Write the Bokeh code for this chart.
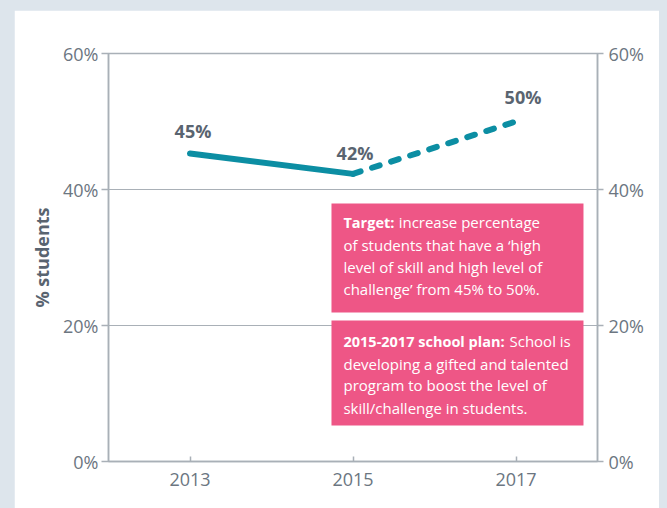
from bokeh.plotting import figure
from bokeh.models import Range1d, LinearAxis, FixedTicker, PrintfTickFormatter, ColumnDataSource
from bokeh.core.properties import value
from bokeh.embed import file_html
from bokeh.resources import INLINE

# ---- data ----
years_actual = [2013, 2015]
pct_actual = [45.3, 42.3]
years_target = [2015, 2017]
pct_target = [42.3, 50.0]
label_years = [2013, 2015, 2017]
label_pcts = [45.3, 42.3, 50.0]
label_texts = ["45%", "42%", "50%"]
x_ticks = [2013, 2015, 2017]
y_ticks = [0, 20, 40, 60]

GRAY = "#a9b0b7"
TICKC = "#6c7681"
DARK = "#596470"
TEAL = "#0c8ea3"
PINK = "#ee5686"

p = figure(width=645, height=498, output_backend="svg", toolbar_location=None,
           x_range=Range1d(2012, 2018), y_range=Range1d(0, 60),
           min_border_left=94, min_border_right=62, min_border_top=43, min_border_bottom=47,
           margin=(10, 0, 0, 14))
p.background_fill_color = "white"
p.border_fill_color = "white"
p.outline_line_color = GRAY
p.outline_line_width = 1.5

p.xgrid.visible = False
p.ygrid.ticker = FixedTicker(ticks=y_ticks)
p.ygrid.grid_line_color = GRAY
p.ygrid.grid_line_width = 1.2

def style_y(ax, tick_out, standoff):
    ax.ticker = FixedTicker(ticks=y_ticks)
    ax.formatter = PrintfTickFormatter(format="%d%%")
    ax.axis_line_color = GRAY
    ax.axis_line_width = 1.5
    ax.major_tick_line_color = GRAY
    ax.major_tick_line_width = 1.5
    ax.major_tick_in = 0
    ax.major_tick_out = tick_out
    ax.minor_tick_line_color = None
    ax.major_label_text_font = "Open Sans"
    ax.major_label_text_font_size = "18px"
    ax.major_label_text_color = TICKC
    ax.major_label_standoff = standoff

ya = p.yaxis[0]
style_y(ya, 7, 3)
ya.axis_label = "% students"
ya.axis_label_text_font = "Open Sans"
ya.axis_label_text_font_style = "bold"
ya.axis_label_text_font_size = "18px"
ya.axis_label_text_color = DARK
ya.axis_label_standoff = 6

ra = LinearAxis()
style_y(ra, 6, 5)
p.add_layout(ra, "right")

xa = p.xaxis[0]
xa.ticker = FixedTicker(ticks=x_ticks)
xa.formatter = PrintfTickFormatter(format="%d")
xa.axis_line_color = GRAY
xa.axis_line_width = 1.5
xa.major_tick_line_color = GRAY
xa.major_tick_line_width = 1.5
xa.major_tick_in = 5
xa.major_tick_out = 0
xa.minor_tick_line_color = None
xa.major_label_text_font = "Open Sans"
xa.major_label_text_font_size = "18px"
xa.major_label_text_color = TICKC
xa.major_label_standoff = 11

# lines
p.line(years_actual, pct_actual, line_color=TEAL, line_width=6, line_cap="round")
p.line(years_target, pct_target, line_color=TEAL, line_width=6, line_dash="8 12", line_cap="round")

src = ColumnDataSource(dict(x=label_years, y=label_pcts, t=label_texts,
                            xo=[3, 2, 7], yo=[-22, -21, -25]))
p.text(x="x", y="y", text="t", source=src, x_offset="xo", y_offset="yo",
       text_align="center", text_baseline="middle", text_font=value("Open Sans"),
       text_font_style="bold", text_font_size="18px", text_color=DARK)

# annotation boxes (data units)
p.quad(left=[2014.736, 2014.736], right=[2017.828, 2017.828],
       top=[37.94, 20.74], bottom=[21.91, 5.29], fill_color=PINK, line_color=None)

TX = 2014.883
box_font = value("Open Sans")
bold_items = dict(x=[TX, TX], y=[35.15, 17.65], t=["Target:", "2015-2017 school plan:"])
p.text(x="x", y="y", text="t", source=ColumnDataSource(bold_items), text_align="left",
       text_baseline="middle", text_font=box_font, text_font_style="bold",
       text_font_size="14.5px", text_color="white")
norm_items = dict(
    x=[2015.56, TX, TX, TX, 2016.92, TX, TX, TX],
    y=[35.15, 31.9, 28.67, 25.43, 17.65, 14.41, 11.18, 7.94],
    t=["increase percentage", "of students that have a \u2018high",
       "level of skill and high level of", "challenge\u2019 from 45% to 50%.",
       "School is", "developing a gifted and talented",
       "program to boost the level of", "skill/challenge in students."])
p.text(x="x", y="y", text="t", source=ColumnDataSource(norm_items), text_align="left",
       text_baseline="middle", text_font=box_font, text_font_size="15px", text_color="white")

html = file_html(p, INLINE)
html = html.replace("<body>", '<body style="background-color:#dde5ec;">')
open("out.html", "w").write(html)
